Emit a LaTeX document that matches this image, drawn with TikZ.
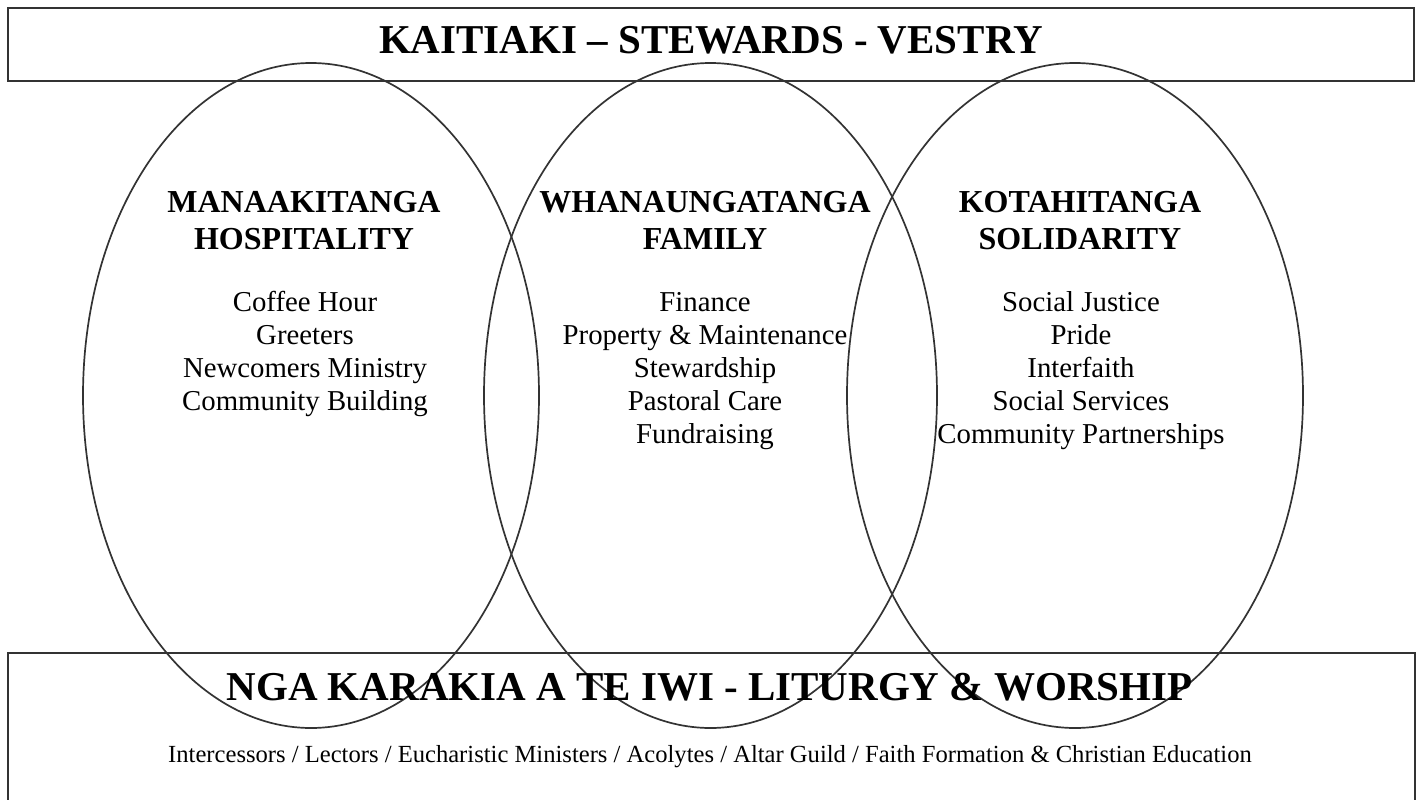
\documentclass[tikz,border=0pt]{standalone}
\usepackage{fontspec}
\setmainfont{Liberation Serif}

\begin{document}
\begin{tikzpicture}[x=1pt,y=-1pt,
    ring/.style={draw=black!80,line width=1.7pt},
    banner/.style={draw=black!80,line width=2pt},
    bigtitle/.style={font=\bfseries\fontsize{41}{49}\selectfont,anchor=base,inner sep=0pt},
    headtxt/.style={font=\bfseries\fontsize{32}{37}\selectfont,align=center,anchor=base,inner sep=0pt},
    listtxt/.style={font=\fontsize{28.8}{32.8}\selectfont,align=center,anchor=base,inner sep=0pt},
    smalltxt/.style={font=\fontsize{24.6}{30}\selectfont,anchor=base,inner sep=0pt}]
    \useasboundingbox (0,0) rectangle (1422,800);
    \clip (0,0) rectangle (1422,800);
    % top and bottom bands
    \draw[banner] (8,8) rectangle (1414,81);
    \draw[banner] (8,653) rectangle (1415,830);
    % three rings
    \draw[ring] (311,395.5) ellipse [x radius=228, y radius=332.5];
    \draw[ring] (710.5,395.5) ellipse [x radius=226.5, y radius=332.5];
    \draw[ring] (1075,395.5) ellipse [x radius=228, y radius=332.5];
    \node[bigtitle] (vestry) at (711,53.3) {KAITIAKI – STEWARDS - VESTRY};
    % ring headings (base = last line)
    \node[headtxt] (manaaki) at (304,249) {MANAAKITANGA\\HOSPITALITY};
    \node[headtxt] (whanau) at (705,249) {WHANAUNGATANGA\\FAMILY};
    \node[headtxt] (kotahi) at (1080,249) {KOTAHITANGA\\SOLIDARITY};
    % ring lists
    \node[listtxt] (manaakilist) at (305,410) {Coffee Hour\\Greeters\\Newcomers Ministry\\Community Building};
    \node[listtxt] (whanaulist) at (705,443) {Finance\\Property \& Maintenance\\Stewardship\\Pastoral Care\\Fundraising};
    \node[listtxt] (kotahilist) at (1081,443) {Social Justice\\Pride\\Interfaith\\Social Services\\Community Partnerships};
    % liturgy band
    \node[bigtitle] (liturgy) at (709.5,700) {NGA KARAKIA A TE IWI - LITURGY \& WORSHIP};
    \node[smalltxt] (ministries) at (710,762) {Intercessors / Lectors / Eucharistic Ministers / Acolytes / Altar Guild / Faith Formation \& Christian Education};
\end{tikzpicture}
\end{document}
